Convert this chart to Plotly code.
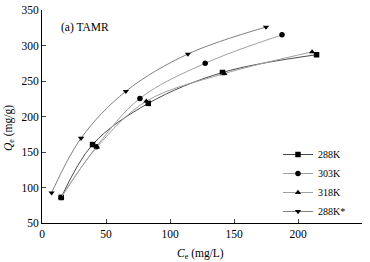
import plotly.graph_objects as go

# Data
x_288 = [15, 39.5, 83, 141, 214.5]
y_288 = [86, 160.5, 218.5, 262, 287]
x_303 = [15, 42.5, 76.5, 127.5, 187.5]
y_303 = [86, 157.5, 225.5, 275, 315]
x_318 = [15, 43, 81.5, 142.5, 211]
y_318 = [86, 157, 221.5, 260.5, 291]
x_288s = [7.5, 30.5, 65.5, 114, 175]
y_288s = [92.5, 169.5, 235.5, 288, 326]

names = ["288K", "303K", "318K", "288K*"]
symbols = ["square", "circle", "triangle-up", "triangle-down"]
line_colors = ["#4a4a4a", "#a0a0a0", "#a0a0a0", "#808080"]
series = [(x_288, y_288), (x_303, y_303), (x_318, y_318), (x_288s, y_288s)]

x_ticks = [0, 50, 100, 150, 200, 250]
y_ticks = [50, 100, 150, 200, 250, 300, 350]

FONT = "Liberation Serif, Times New Roman, serif"

L, R, T, B = 42, 8, 10, 39
W, H = 370, 262
plot_w = W - L - R
plot_h = H - T - B

fig = go.Figure()
for (xs, ys), n, s, c in zip(series, names, symbols, line_colors):
    fig.add_trace(go.Scatter(
        x=xs, y=ys, name=n, mode="lines+markers",
        line=dict(color=c, width=1, shape="spline", smoothing=1.0),
        marker=dict(symbol=s, size=5.5, color="black"),
    ))

fig.update_layout(
    width=W, height=H,
    margin=dict(l=L, r=R, t=T, b=B, pad=0),
    paper_bgcolor="white", plot_bgcolor="white",
    font=dict(family=FONT, size=11, color="black"),
    showlegend=True,
    legend=dict(x=(278 - L) / plot_w, y=(223 - 140) / plot_h,
                xanchor="left", yanchor="top",
                bgcolor="rgba(0,0,0,0)", font=dict(family=FONT, size=10),
                itemwidth=30, tracegroupgap=0),
    xaxis=dict(range=[0, 250], tickvals=x_ticks, ticks="inside", ticklen=4,
               showline=True, linecolor="black", linewidth=1, showgrid=False,
               zeroline=False, automargin=False,
               tickfont=dict(family=FONT, size=11.5)),
    yaxis=dict(range=[50, 350], tickvals=y_ticks, ticks="inside", ticklen=4,
               showline=True, linecolor="black", linewidth=1, showgrid=False,
               zeroline=False, automargin=False,
               tickfont=dict(family=FONT, size=11.5)),
    annotations=[
        dict(text="(a) TAMR", x=(59 - L) / plot_w, y=(223 - 27) / plot_h,
             xref="paper", yref="paper",
             xanchor="left", yanchor="middle", showarrow=False,
             font=dict(family=FONT, size=11.5)),
        dict(text="<i>C</i><sub>e</sub> (mg/L)", x=(200 - L) / plot_w,
             y=-(254 - 223) / plot_h, xref="paper", yref="paper",
             xanchor="center", yanchor="middle",
             showarrow=False, font=dict(family=FONT, size=11.5)),
        dict(text="<i>Q</i><sub>e</sub> (mg/g)", x=-(L - 9) / plot_w,
             y=(223 - 128) / plot_h, xref="paper", yref="paper",
             xanchor="center", yanchor="middle",
             textangle=-90, showarrow=False, font=dict(family=FONT, size=11.5)),
    ],
)

fig.write_html("out.html", config={"displayModeBar": False},
               post_script="document.body.style.margin='0';document.body.style.padding='0';")
